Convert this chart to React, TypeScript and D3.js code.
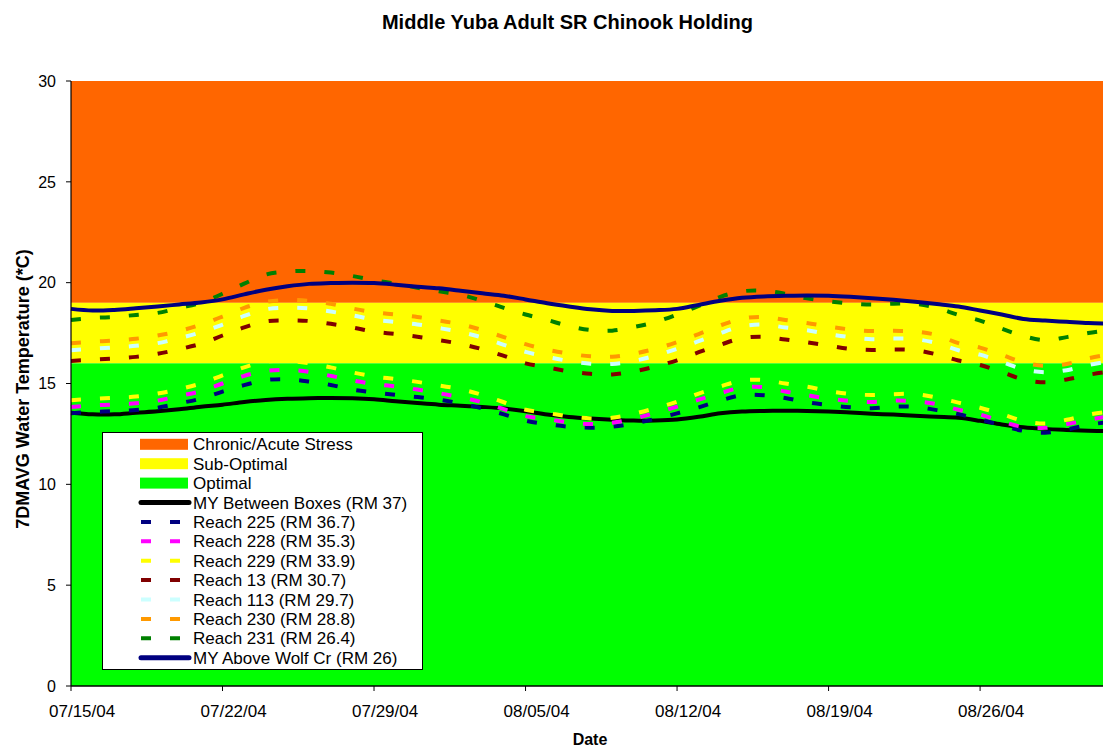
import React from "react";
import * as d3 from "d3";

const TITLE = "Middle Yuba Adult SR Chinook Holding";
const X_TITLE = "Date";
const Y_TITLE = "7DMAVG Water Temperature (*C)";

const START_DATE = "2004-07-15";
const END_DATE = "2004-09-02";
const N_DAYS = 49;
const X_TICKS = ["07/15/04", "07/22/04", "07/29/04", "08/05/04", "08/12/04", "08/19/04", "08/26/04"];
const Y_TICKS = [0, 5, 10, 15, 20, 25, 30];

const BANDS = [
  { name: "Chronic/Acute Stress", lo: 19, hi: 30, color: "#FF6600" },
  { name: "Sub-Optimal", lo: 16, hi: 19, color: "#FFFF00" },
  { name: "Optimal", lo: 0, hi: 16, color: "#00FF00" },
];

const myBetweenBoxes = [13.55, 13.47, 13.47, 13.55, 13.62, 13.72, 13.85, 13.95, 14.08, 14.18, 14.24, 14.27, 14.28, 14.27, 14.22, 14.12, 14.03, 13.95, 13.9, 13.84, 13.76, 13.62, 13.46, 13.34, 13.26, 13.2, 13.16, 13.17, 13.22, 13.35, 13.52, 13.61, 13.64, 13.65, 13.64, 13.61, 13.56, 13.5, 13.46, 13.4, 13.35, 13.3, 13.15, 12.97, 12.83, 12.75, 12.7, 12.66, 12.63];
const reach225 = [13.53, 13.59, 13.63, 13.69, 13.8, 14.02, 14.25, 14.6, 14.92, 15.17, 15.21, 15.1, 14.93, 14.7, 14.56, 14.44, 14.33, 14.2, 14.01, 13.77, 13.47, 13.16, 12.98, 12.86, 12.81, 12.86, 13.02, 13.25, 13.52, 13.82, 14.15, 14.42, 14.42, 14.28, 14.07, 13.93, 13.82, 13.77, 13.85, 13.84, 13.68, 13.48, 13.22, 12.92, 12.65, 12.56, 12.72, 12.95, 13.1];
const reach228 = [13.84, 13.91, 13.96, 14.02, 14.15, 14.38, 14.62, 15.0, 15.38, 15.62, 15.67, 15.58, 15.38, 15.15, 14.98, 14.85, 14.7, 14.52, 14.32, 14.07, 13.73, 13.38, 13.24, 13.07, 12.99, 13.05, 13.25, 13.55, 13.85, 14.2, 14.52, 14.8, 14.82, 14.6, 14.42, 14.25, 14.13, 14.08, 14.15, 14.12, 13.98, 13.7, 13.46, 13.12, 12.84, 12.8, 12.98, 13.2, 13.38];
const reach229 = [14.17, 14.24, 14.29, 14.35, 14.5, 14.72, 15.0, 15.4, 15.8, 16.08, 16.12, 16.0, 15.8, 15.55, 15.35, 15.22, 15.08, 14.9, 14.72, 14.43, 14.07, 13.7, 13.54, 13.37, 13.27, 13.3, 13.5, 13.78, 14.1, 14.5, 14.85, 15.15, 15.17, 15.0, 14.84, 14.63, 14.48, 14.43, 14.47, 14.48, 14.3, 14.05, 13.8, 13.48, 13.15, 13.02, 13.2, 13.45, 13.62];
const reach13 = [16.12, 16.18, 16.24, 16.32, 16.47, 16.7, 16.97, 17.38, 17.78, 18.08, 18.13, 18.1, 17.96, 17.78, 17.57, 17.45, 17.32, 17.15, 16.96, 16.7, 16.37, 16.0, 15.8, 15.6, 15.48, 15.45, 15.6, 15.84, 16.15, 16.55, 16.92, 17.25, 17.32, 17.18, 17.04, 16.88, 16.72, 16.66, 16.69, 16.65, 16.44, 16.14, 15.92, 15.57, 15.2, 15.06, 15.2, 15.43, 15.6];
const reach113 = [16.65, 16.72, 16.79, 16.87, 17.0, 17.25, 17.54, 17.92, 18.35, 18.68, 18.76, 18.72, 18.57, 18.38, 18.17, 18.05, 17.93, 17.75, 17.55, 17.28, 16.92, 16.57, 16.32, 16.12, 15.98, 15.97, 16.12, 16.38, 16.72, 17.1, 17.5, 17.83, 17.92, 17.78, 17.64, 17.45, 17.3, 17.2, 17.23, 17.2, 17.0, 16.65, 16.43, 16.07, 15.7, 15.56, 15.66, 15.92, 16.1];
const reach230 = [17.0, 17.07, 17.13, 17.22, 17.38, 17.6, 17.92, 18.32, 18.75, 19.05, 19.14, 19.1, 18.95, 18.72, 18.53, 18.42, 18.3, 18.12, 17.94, 17.65, 17.3, 16.95, 16.68, 16.48, 16.35, 16.33, 16.48, 16.72, 17.05, 17.45, 17.88, 18.22, 18.3, 18.15, 18.0, 17.82, 17.68, 17.6, 17.61, 17.58, 17.4, 17.0, 16.78, 16.42, 16.05, 15.88, 15.97, 16.25, 16.45];
const reach231 = [18.15, 18.25, 18.3, 18.4, 18.5, 18.75, 19.0, 19.45, 19.95, 20.4, 20.55, 20.58, 20.5, 20.33, 20.12, 19.95, 19.75, 19.57, 19.4, 19.1, 18.75, 18.42, 18.15, 17.85, 17.65, 17.62, 17.8, 18.05, 18.42, 18.85, 19.3, 19.57, 19.6, 19.45, 19.22, 19.08, 18.97, 18.92, 18.96, 18.95, 18.75, 18.4, 18.12, 17.72, 17.35, 17.15, 17.3, 17.5, 17.65];
const myAboveWolf = [18.7, 18.62, 18.65, 18.73, 18.82, 18.92, 19.02, 19.17, 19.42, 19.65, 19.82, 19.94, 19.98, 20.0, 19.98, 19.9, 19.8, 19.72, 19.6, 19.47, 19.35, 19.17, 18.98, 18.82, 18.68, 18.6, 18.6, 18.63, 18.7, 18.9, 19.1, 19.25, 19.32, 19.35, 19.36, 19.35, 19.3, 19.23, 19.15, 19.05, 18.94, 18.82, 18.62, 18.42, 18.2, 18.12, 18.06, 18.0, 17.97];

const SERIES = [
  { name: "MY Between Boxes (RM 37)", values: myBetweenBoxes, color: "#000000", dashed: false },
  { name: "Reach 225 (RM 36.7)", values: reach225, color: "#000080", dashed: true },
  { name: "Reach 228 (RM 35.3)", values: reach228, color: "#FF00FF", dashed: true },
  { name: "Reach 229 (RM 33.9)", values: reach229, color: "#FFFF00", dashed: true },
  { name: "Reach 13 (RM 30.7)", values: reach13, color: "#800000", dashed: true },
  { name: "Reach 113 (RM 29.7)", values: reach113, color: "#CCFFFF", dashed: true },
  { name: "Reach 230 (RM 28.8)", values: reach230, color: "#FF9900", dashed: true },
  { name: "Reach 231 (RM 26.4)", values: reach231, color: "#008000", dashed: true },
  { name: "MY Above Wolf Cr (RM 26)", values: myAboveWolf, color: "#000080", dashed: false },
];

const W = 1103;
const H = 748;
const FONT = "Arial, 'Liberation Sans', sans-serif";
const DASH = "10 19";

export default function App() {
  const parse = d3.utcParse("%Y-%m-%d");
  const start = parse(START_DATE) as Date;
  const end = parse(END_DATE) as Date;
  const dates = d3.range(N_DAYS).map((i) => d3.utcDay.offset(start, i));
  const tickParse = d3.utcParse("%m/%d/%y");
  const tickDates = X_TICKS.map((t) => tickParse(t) as Date);

  const x = d3.scaleUtc().domain([start, end]).range([71, 71 + 21.645 * 49]);
  const y = d3.scaleLinear().domain([0, 30]).range([686, 81]);
  const left = x.range()[0];
  const right = Math.max(x.range()[1], W);

  const line = d3
    .line<number>()
    .x((_, i) => x(dates[i]))
    .y((v) => y(v))
    .curve(d3.curveCatmullRom.alpha(0.5));

  const legendItems = [
    ...BANDS.map((b) => ({ kind: "band", name: b.name, color: b.color, dashed: false })),
    ...SERIES.map((s) => ({ kind: "line", name: s.name, color: s.color, dashed: s.dashed })),
  ];

  return (
    <svg width={W} height={H} style={{ position: "absolute", left: 0, top: 0, background: "#fff" }} fontFamily={FONT}>
      <rect x={0} y={0} width={W} height={H} fill="#fff" />
      <text x={567.5} y={29} textAnchor="middle" fontSize={20} fontWeight="bold">{TITLE}</text>

      {BANDS.map((b) => (
        <rect key={b.name} x={left} y={y(b.hi)} width={right - left} height={y(b.lo) - y(b.hi)} fill={b.color} />
      ))}

      {SERIES.map((s) => (
        <path
          key={s.name}
          d={line(s.values) || ""}
          fill="none"
          stroke={s.color}
          strokeWidth={4}
          strokeDasharray={s.dashed ? DASH : undefined}
          strokeLinejoin="round"
        />
      ))}

      {/* axes */}
      <line x1={left} x2={left} y1={y(30)} y2={y(0)} stroke="#000" strokeWidth={1.2} />
      <line x1={left} x2={right} y1={y(0)} y2={y(0)} stroke="#000" strokeWidth={1.5} />
      {Y_TICKS.map((t) => (
        <g key={t}>
          <line x1={left - 5} x2={left} y1={y(t)} y2={y(t)} stroke="#000" />
          <text x={56} y={y(t)} dy="0.36em" textAnchor="end" fontSize={16}>{t}</text>
        </g>
      ))}
      {tickDates.map((d, i) => (
        <g key={X_TICKS[i]}>
          <line x1={x(d)} x2={x(d)} y1={y(0)} y2={y(0) + 5} stroke="#000" />
          <text x={x(d) - 22} y={716.5} fontSize={17}>{X_TICKS[i]}</text>
        </g>
      ))}
      <text x={590} y={745} textAnchor="middle" fontSize={16} fontWeight="bold">{X_TITLE}</text>
      <text transform={`translate(29,389) rotate(-90)`} textAnchor="middle" fontSize={18} fontWeight="bold">{Y_TITLE}</text>

      {/* legend */}
      <g>
        <rect x={102.5} y={432.5} width={320} height={237} fill="#fff" stroke="#000" strokeWidth={1} />
        {legendItems.map((it, i) => {
          const cy = 444.3 + i * 19.4;
          return (
            <g key={it.name}>
              {it.kind === "band" ? (
                <rect x={140} y={cy - 5.5} width={48} height={11} fill={it.color} />
              ) : (
                <line
                  x1={141}
                  x2={189}
                  y1={cy}
                  y2={cy}
                  stroke={it.color}
                  strokeWidth={it.dashed ? 4 : 5}
                  strokeDasharray={it.dashed ? DASH : undefined}
                  strokeLinecap={it.dashed ? "butt" : "round"}
                />
              )}
              <text x={193} y={cy} dy="0.36em" fontSize={17}>{it.name}</text>
            </g>
          );
        })}
      </g>
    </svg>
  );
}
